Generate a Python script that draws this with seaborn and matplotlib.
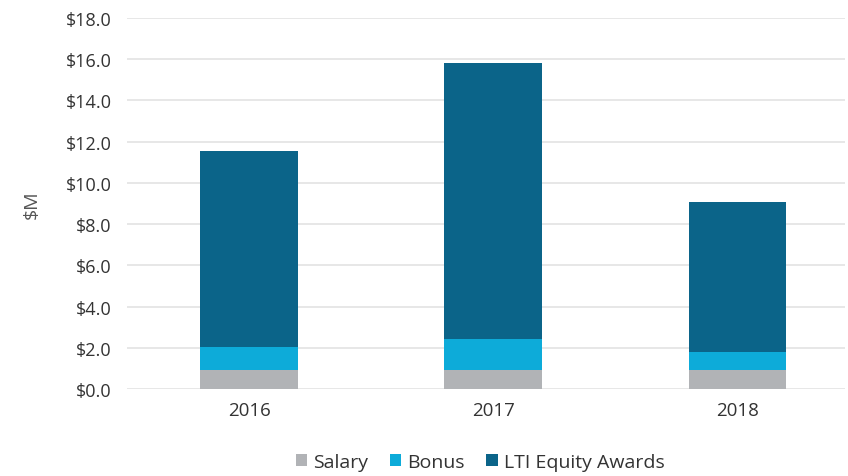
import numpy as np
import pandas as pd
import matplotlib
matplotlib.use("Agg")
import matplotlib.pyplot as plt
from matplotlib.patches import Patch
import seaborn as sns

# ── Data ──────────────────────────────────────────────────────────────────────
years = ["2016", "2017", "2018"]
salary = [0.92, 0.94, 0.94]
bonus = [1.10, 1.49, 0.84]
lti = [9.55, 13.40, 7.30]

series_names = ["Salary", "Bonus", "LTI Equity Awards"]
colors = ["#B1B3B6", "#0DABD9", "#0B6489"]

# ── Setup ─────────────────────────────────────────────────────────────────────
sns.set_theme(style="white")
plt.rcParams["font.family"] = ["Open Sans", "DejaVu Sans"]

df = pd.DataFrame({"year": years, "Salary": salary, "Bonus": bonus, "LTI": lti})
# cumulative tops for stacking: draw tallest first, then overlay lower segments
df["top_lti"] = df["Salary"] + df["Bonus"] + df["LTI"]
df["top_bonus"] = df["Salary"] + df["Bonus"]
df["top_salary"] = df["Salary"]

fig = plt.figure(figsize=(8.48, 4.77), dpi=100)
ax = fig.add_axes([127 / 848, 1 - 390 / 477, (845 - 127) / 848, (390 - 19) / 477])

for col, c in zip(["top_lti", "top_bonus", "top_salary"], colors[::-1]):
    sns.barplot(data=df, x="year", y=col, color=c, width=0.4, ax=ax,
                saturation=1, edgecolor="none", zorder=3)

ax.set_ylim(0, 18)
ax.set_xlim(-0.5, 2.44)
ax.set_yticks(np.arange(0, 18.1, 2))
ax.set_yticklabels([f"${v:.1f}" for v in np.arange(0, 18.1, 2)])
ax.grid(axis="y", color="#E3E3E3", linewidth=1.2, zorder=0)
ax.set_axisbelow(True)
for s in ax.spines.values():
    s.set_visible(False)

ax.tick_params(axis="both", length=0, colors="#333333")
ax.tick_params(axis="y", labelsize=13, pad=11)
ax.tick_params(axis="x", labelsize=13.5, pad=9)
ax.set_xlabel("")
ax.set_ylabel("$M", fontsize=14, color="#555555", labelpad=18)

handles = [Patch(facecolor=c, edgecolor="none") for c in colors]
fig.legend(handles, series_names, loc="center", bbox_to_anchor=(480 / 848, 1 - 463 / 477),
           ncol=3, frameon=False, fontsize=14, handlelength=0.6, handleheight=0.6,
           handletextpad=0.3, columnspacing=1.1, labelcolor="#333333")

fig.savefig("out.png", dpi=100)
